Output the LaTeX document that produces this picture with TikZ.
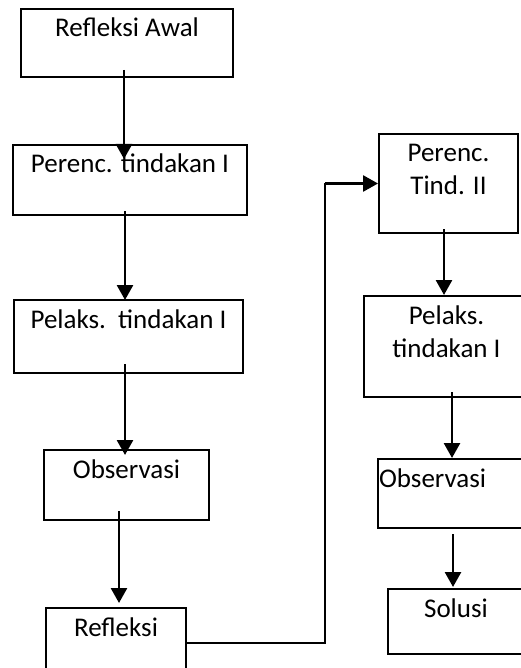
\documentclass[tikz,border=0pt]{standalone}
\usepackage{fontspec}
\setmainfont{Carlito}
\usetikzlibrary{arrows.meta,calc}

\tikzset{
  kotak/.style={draw, line width=2pt, inner sep=0pt, anchor=north,
    font=\fontsize{27}{33}\selectfont, text height=28pt},
  panah/.style={line width=2.7pt, -{Triangle[length=15pt,width=16pt]}},
  garis/.style={line width=1.6pt}
}

\begin{document}
\begin{tikzpicture}[x=1pt, y=-1pt]
  \path[use as bounding box, clip] (0,0) rectangle (521,668);
  % siklus I
  \node[kotak, minimum width=212pt, text depth=40pt] (awal) at (127,8) {Refleksi Awal};
  \node[kotak, minimum width=234pt, text depth=42pt] (ren1) at (130,144) {Perenc. tindakan I};
  \node[kotak, minimum width=229pt, text depth=45pt] (pel1) at (128.5,299) {Pelaks.\ \ tindakan I};
  \node[kotak, minimum width=165pt, text depth=42pt] (obs1) at (126.5,449) {Observasi};
  \node[kotak, minimum width=140pt, text depth=42pt] (refl) at (116,607) {Refleksi};
  % siklus II
  \node[kotak, minimum width=139pt, text depth=71pt] (ren2) at (448.5,133)
    {\begin{tabular}[t]{@{}c@{}}Perenc.\\Tind. II\end{tabular}};
  \node[kotak, minimum width=165pt, text depth=73pt] (pel2) at (446.5,295)
    {\begin{tabular}[t]{@{}c@{}}Pelaks.\\tindakan I\end{tabular}};
  \node[kotak, text width=150pt, inner xsep=1pt, align=left, text depth=41pt] (obs2) at (454,458) {Observasi};
  \node[kotak, minimum width=136pt, text depth=37pt] (sol) at (456,588) {Solusi};

  % panah ke bawah
  \foreach \a/\b/\ax/\ay/\bx/\by in {awal/ren1/-3/-8/-6/15, ren1/pel1/-5/-5/-3.5/1,
      pel1/obs1/-3.5/-10/-1.5/6, obs1/refl/-7.5/-10/3/-4, ren2/pel2/-4.5/-5/-2.5/0,
      pel2/obs2/5.5/-6/-2/0, obs2/sol/-1/5/-3/-1}
    \draw[panah] ($(\a.south)+(\ax,\ay)$) -- ($(\b.north)+(\bx,\by)$);

  % refleksi -> siklus II
  \coordinate (belok) at ($(ren2.west)+(-53,0)$);
  \draw[garis] (refl.east) -| (belok);
  \draw[panah] (belok) -- (ren2.west);
\end{tikzpicture}
\end{document}
